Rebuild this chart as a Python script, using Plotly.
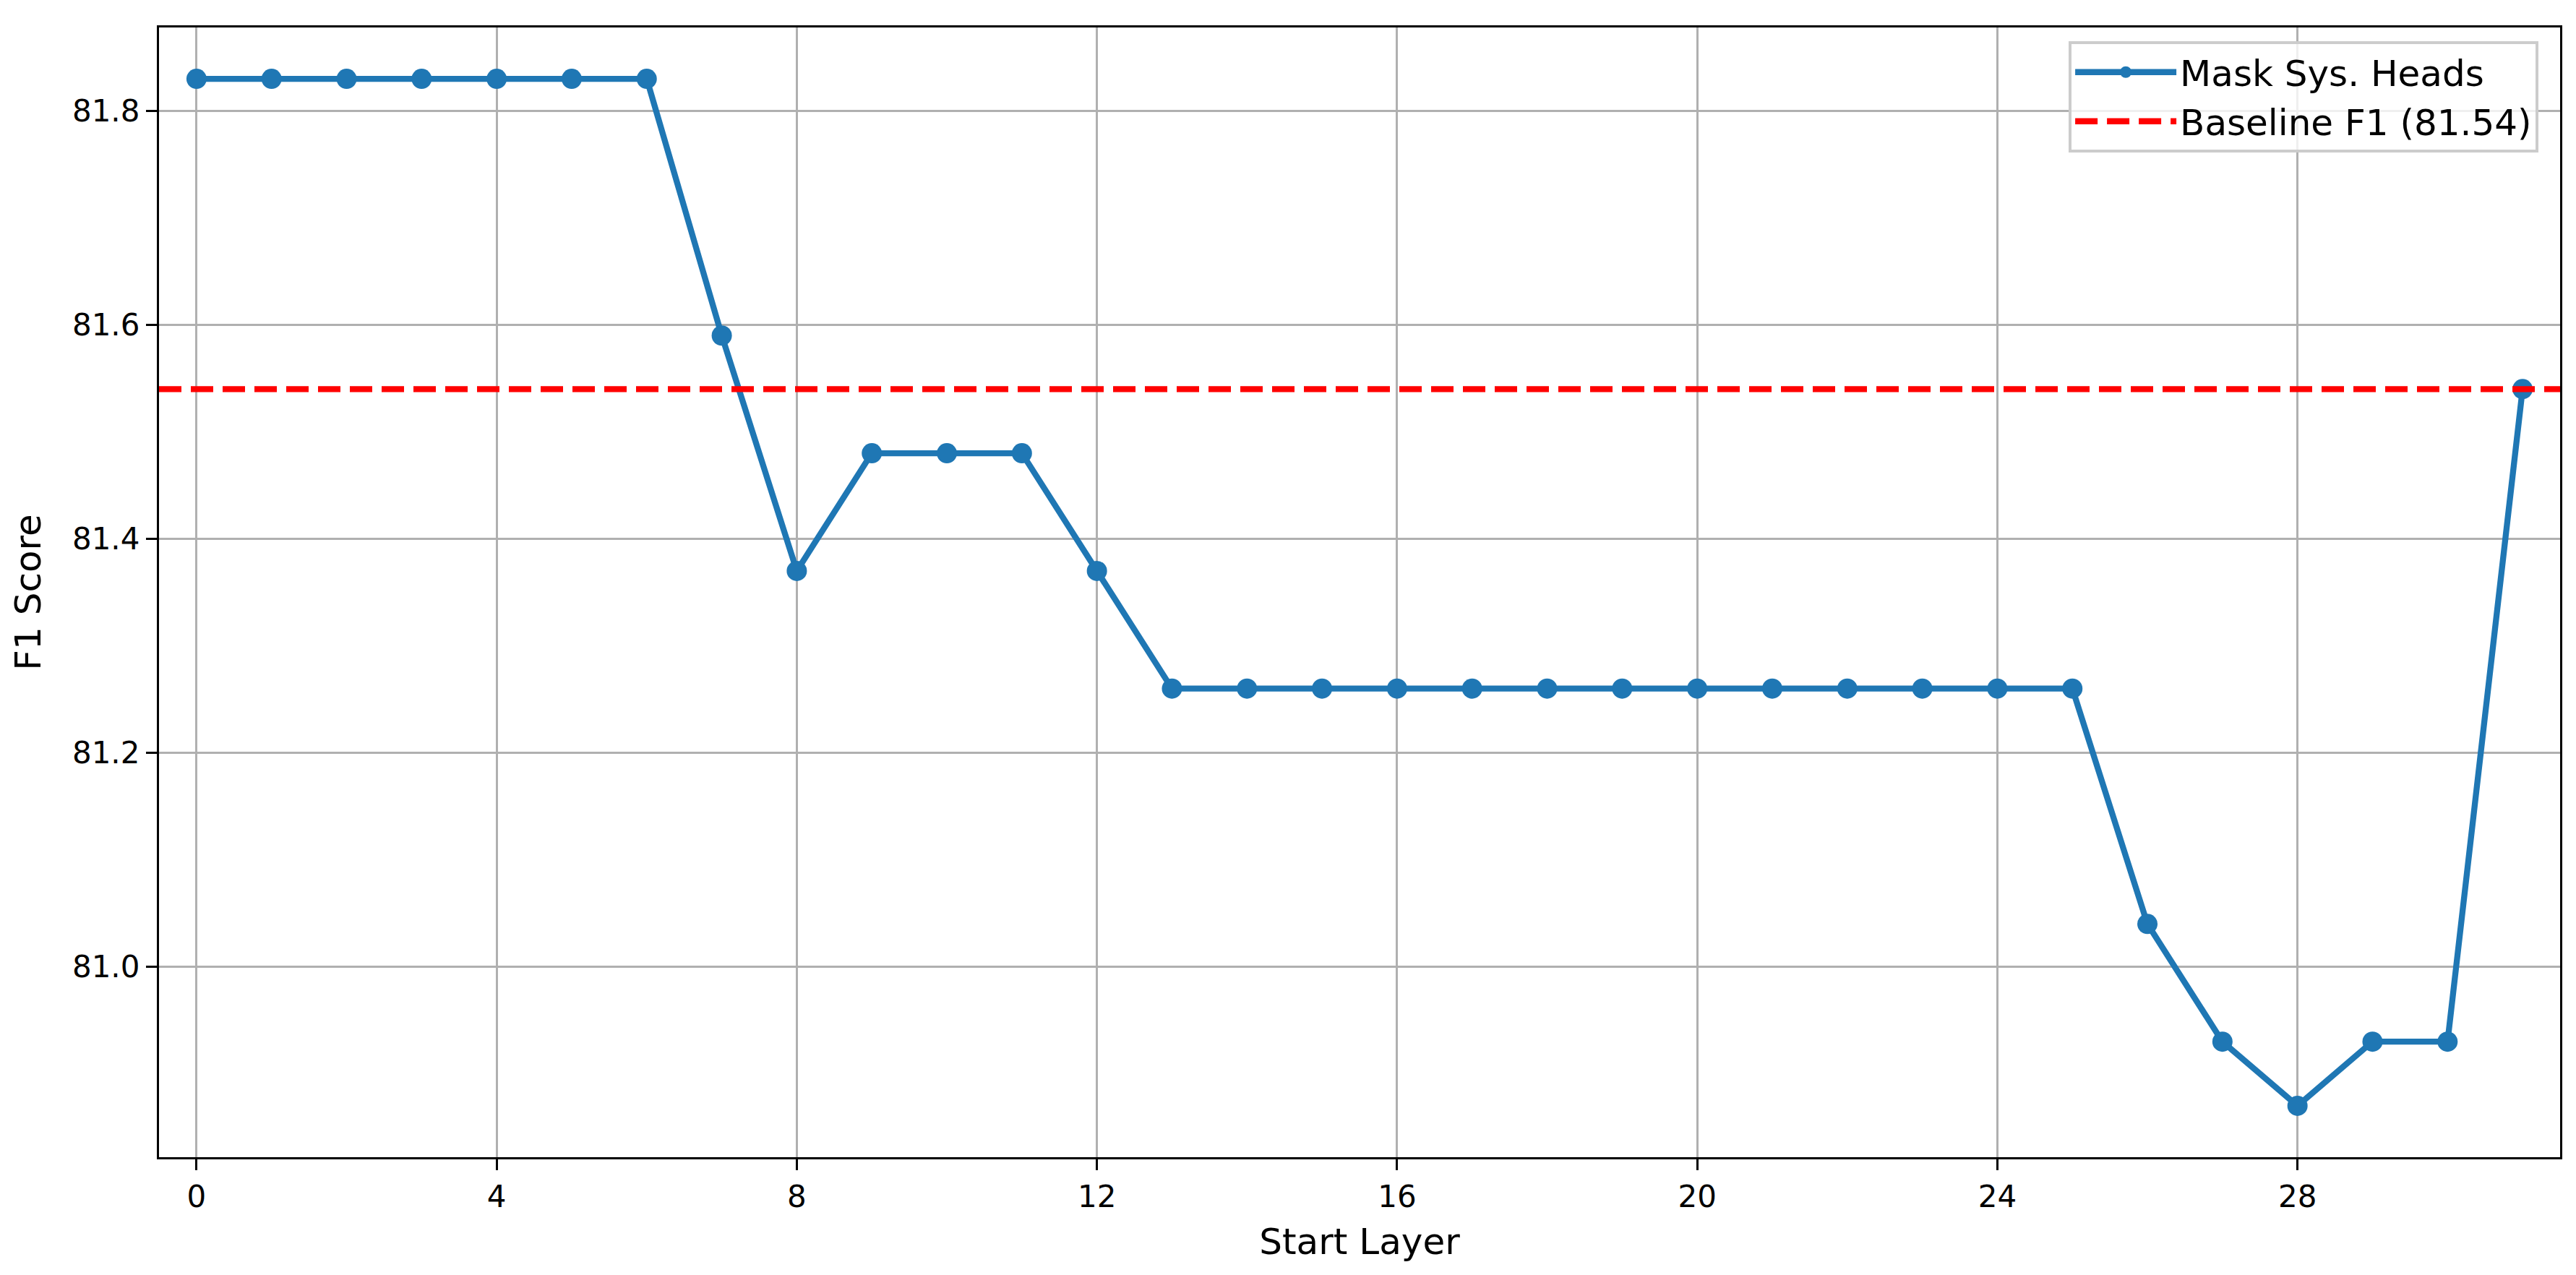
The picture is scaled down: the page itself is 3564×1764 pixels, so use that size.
import plotly.graph_objects as go

# data
layers = list(range(32))
f1_scores = [81.83, 81.83, 81.83, 81.83, 81.83, 81.83, 81.83,
             81.59, 81.37, 81.48, 81.48, 81.48, 81.37,
             81.26, 81.26, 81.26, 81.26, 81.26, 81.26, 81.26,
             81.26, 81.26, 81.26, 81.26, 81.26, 81.26,
             81.04, 80.93, 80.87, 80.93, 80.93, 81.54]
baseline_f1 = 81.54
x_ticks = [0, 4, 8, 12, 16, 20, 24, 28]
y_ticks = [81.0, 81.2, 81.4, 81.6, 81.8]

FONT = "DejaVu Sans"
BLUE = "#1f77b4"

fig = go.Figure()

fig.add_trace(go.Scatter(
    x=layers, y=f1_scores, mode="lines+markers", name="Mask Sys. Heads",
    line=dict(color=BLUE, width=8.3),
    marker=dict(color=BLUE, size=28),
))

# axhline style baseline across the whole axis
x_lo = layers[0] - 0.5
x_hi = layers[-1] + 0.5
fig.add_trace(go.Scatter(
    x=[x_lo, x_hi], y=[baseline_f1, baseline_f1], mode="lines",
    name=f"Baseline F1 ({baseline_f1})",
    line=dict(color="#ff0000", width=8.3, dash="31px,13px"),
))

# y limits with matplotlib-like 5% margins
y_span = max(f1_scores) - min(f1_scores)
y_lo = min(f1_scores) - 0.05 * y_span
y_hi = max(f1_scores) + 0.05 * y_span

axis_style = dict(
    showgrid=True, gridcolor="#b0b0b0", gridwidth=3.3,
    showline=True, linecolor="black", linewidth=3.3, mirror=True,
    ticks="outside", ticklen=15, tickwidth=3.3, tickcolor="black",
    tickfont=dict(family=FONT, size=42, color="black"),
    zeroline=False,
)

fig.update_xaxes(axis_style, range=[x_lo, x_hi], tickvals=x_ticks,
                 title=dict(text="Start Layer", font=dict(family=FONT, size=50, color="black"), standoff=22))
fig.update_yaxes(axis_style, range=[y_lo, y_hi], tickvals=y_ticks, tickformat=".1f",
                 title=dict(text="F1 Score", font=dict(family=FONT, size=50, color="black"), standoff=28))

fig.update_layout(
    width=3564, height=1764,
    margin=dict(l=212, r=30, t=30, b=171),
    plot_bgcolor="white", paper_bgcolor="white",
    font=dict(family=FONT, color="black"),
    legend=dict(
        x=0.991, xanchor="right", y=0.988, yanchor="top",
        itemwidth=140,
        font=dict(family=FONT, size=50, color="black"),
        bgcolor="rgba(255,255,255,0.8)", bordercolor="#cccccc", borderwidth=4,
    ),
)

fig.write_html("out.html")
